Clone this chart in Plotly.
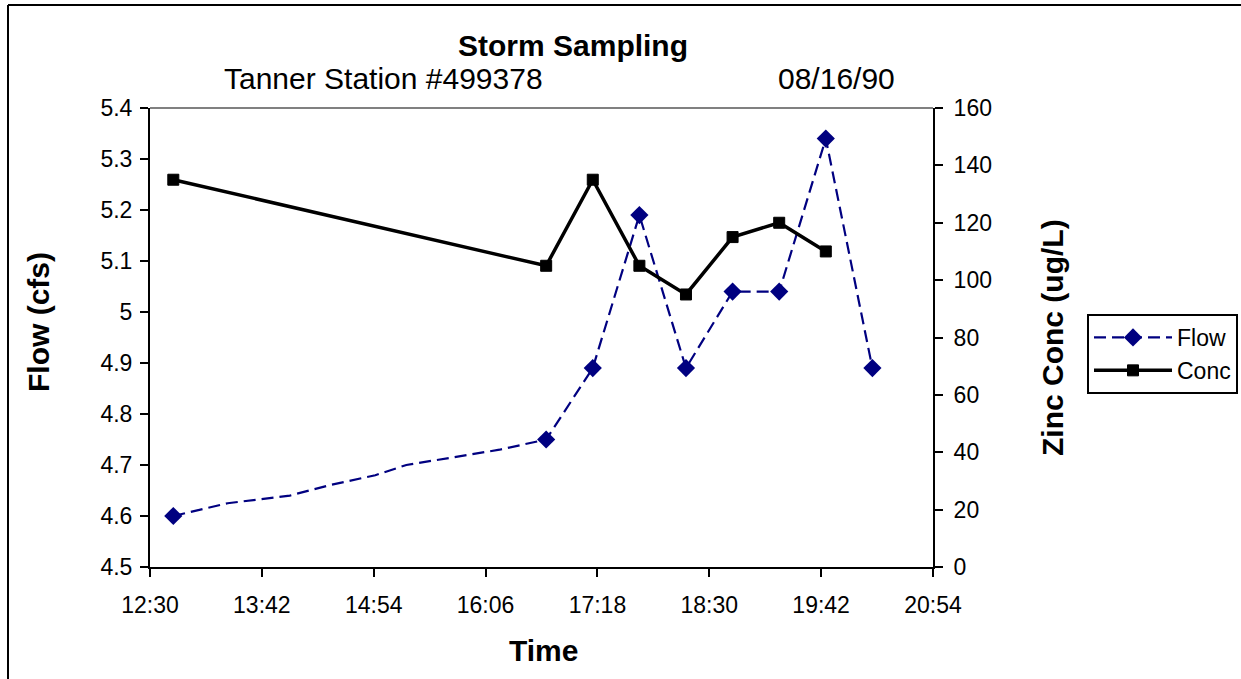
import plotly.graph_objects as go

# ---- data ----
flow_times = ["12:45", "13:20", "14:00", "14:25", "14:55", "15:15", "15:55", "16:15", "16:45",
              "17:15", "17:45", "18:15", "18:45", "19:15", "19:45", "20:15"]
flow_values = [4.60, 4.625, 4.64, 4.66, 4.68, 4.70, 4.72, 4.73, 4.75,
               4.89, 5.19, 4.89, 5.04, 5.04, 5.34, 4.89]
flow_marked = [1, 0, 0, 0, 0, 0, 0, 0, 1, 1, 1, 1, 1, 1, 1, 1]

conc_times = ["12:45", "16:45", "17:15", "17:45", "18:15", "18:45", "19:15", "19:45"]
conc_values = [135, 105, 135, 105, 95, 115, 120, 110]

x_tick_labels = ["12:30", "13:42", "14:54", "16:06", "17:18", "18:30", "19:42", "20:54"]
flow_ticks = [4.5, 4.6, 4.7, 4.8, 4.9, 5.0, 5.1, 5.2, 5.3, 5.4]
flow_tick_labels = ["4.5", "4.6", "4.7", "4.8", "4.9", "5", "5.1", "5.2", "5.3", "5.4"]
conc_ticks = [0, 20, 40, 60, 80, 100, 120, 140, 160]

DAY = "1990-08-16 "
FONT = "Arial, Liberation Sans, sans-serif"
NAVY = "#000080"
TICK = 23
BIG = 30

def ts(t):
    return DAY + t

fig = go.Figure()

fig.add_trace(go.Scatter(
    x=[ts(t) for t in flow_times], y=flow_values, name="Flow",
    mode="lines+markers",
    line=dict(color=NAVY, width=2.2, dash="12px,6px"),
    marker=dict(symbol="diamond", size=14,
                color=[NAVY if m else "rgba(0,0,0,0)" for m in flow_marked],
                line=dict(width=0)),
    yaxis="y",
))

fig.add_trace(go.Scatter(
    x=[ts(t) for t in conc_times], y=conc_values, name="Conc",
    mode="lines+markers",
    line=dict(color="black", width=3.5),
    marker=dict(symbol="square", size=11, color="black",
                line=dict(color="black", width=1)),
    yaxis="y2",
))

L, R, T, B = 150, 933, 108, 567
W, H = 1241, 679

def px_x(p):
    return (p - L) / (R - L)

def px_y(p):
    return (B - p) / (B - T)

axis_common = dict(
    showgrid=False, zeroline=False,
    showline=True, linecolor="black", linewidth=2,
    ticks="outside", ticklen=8, tickwidth=2, tickcolor="black",
    tickfont=dict(family=FONT, size=TICK, color="black"),
    automargin=False,
)

fig.update_layout(
    width=W, height=H,
    margin=dict(l=L, r=W - R, t=T, b=H - B, pad=0, autoexpand=False),
    paper_bgcolor="white", plot_bgcolor="white",
    font=dict(family=FONT, size=TICK, color="black"),
    showlegend=True,
    legend=dict(
        xref="container", yref="container",
        x=1087 / W, y=1 - 314 / H, xanchor="left", yanchor="top",
        bordercolor="black", borderwidth=2, bgcolor="white",
        font=dict(family=FONT, size=23, color="black"),
        itemwidth=78, tracegroupgap=6,
    ),
    xaxis=dict(
        type="date",
        range=[ts(x_tick_labels[0]), ts(x_tick_labels[-1])],
        tickvals=[ts(t) for t in x_tick_labels],
        ticktext=x_tick_labels,
        ticklabelstandoff=8,
        **axis_common,
    ),
    yaxis=dict(
        range=[4.5, 5.4],
        tickvals=flow_ticks, ticktext=flow_tick_labels,
        ticklabelstandoff=3,
        **axis_common,
    ),
    yaxis2=dict(
        range=[0, 160], overlaying="y", side="right",
        tickvals=conc_ticks,
        ticklabelstandoff=6,
        **axis_common,
    ),
)

# plot-area top border (grey) and outer chart border
fig.add_shape(type="line", xref="paper", yref="paper", x0=0, x1=1, y0=1, y1=1,
              line=dict(color="#808080", width=2), layer="below")
fig.add_shape(type="line", xref="paper", yref="paper",
              x0=px_x(8), x1=px_x(8), y0=px_y(5), y1=px_y(700),
              line=dict(color="black", width=2))
fig.add_shape(type="line", xref="paper", yref="paper",
              x0=px_x(8), x1=px_x(1260), y0=px_y(5), y1=px_y(5),
              line=dict(color="black", width=2))

ann = [
    dict(text="<b>Storm Sampling</b>", x=px_x(573), y=px_y(46), size=BIG),
    dict(text="Tanner Station #499378", x=px_x(383), y=px_y(78), size=BIG),
    dict(text="08/16/90", x=px_x(836), y=px_y(78), size=BIG),
    dict(text="<b>Time</b>", x=px_x(543), y=px_y(650), size=BIG),
    dict(text="<b>Flow (cfs)</b>", x=px_x(38), y=px_y(322), size=BIG, angle=-90),
    dict(text="<b>Zinc Conc (ug/L)</b>", x=px_x(1052), y=px_y(338), size=BIG, angle=-90),
]
for a in ann:
    fig.add_annotation(text=a["text"], x=a["x"], y=a["y"], xref="paper", yref="paper",
                       xanchor="center", yanchor="middle", showarrow=False,
                       textangle=a.get("angle", 0),
                       font=dict(family=FONT, size=a["size"], color="black"))

fig.write_html("out.html")
